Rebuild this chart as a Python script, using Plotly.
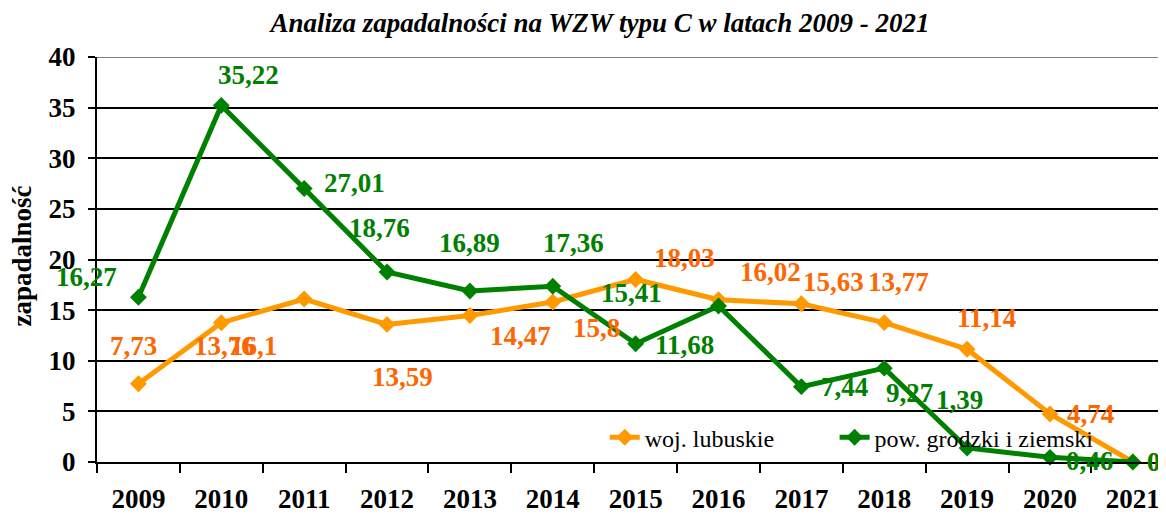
import plotly.graph_objects as go

# ---- data ----
years = ["2009", "2010", "2011", "2012", "2013", "2014", "2015",
         "2016", "2017", "2018", "2019", "2020", "2021"]
woj_lubuskie = [7.73, 13.76, 16.1, 13.59, 14.47, 15.8, 18.03,
                16.02, 15.63, 13.77, 11.14, 4.74, 0]
pow_grodzki = [16.27, 35.22, 27.01, 18.76, 16.89, 17.36, 11.68,
               15.41, 7.44, 9.27, 1.39, 0.46, 0]
y_ticks = [0, 5, 10, 15, 20, 25, 30, 35, 40]

# label offsets (pixels) as in the reference chart
woj_dx = [-5, 3, -51, 15, 51, 44, 49, 52, 32, 14, 19, 41, 21]
woj_dy = [38, -23, -47, -53, -21, -26, 21, 28, 22, 41, 31, 0, 0]
pow_dx = [-52, 27, 50, -8, 0, 21, 49, -87, 43, 25, -8, 40, 21]
pow_dy = [20, 30, 6, 44, 48, 43, -1, 13, 0, -25, 48, -4, 0]

SERIF = "Liberation Serif, Times New Roman, serif"
ORANGE_LINE = "#FF9900"
ORANGE_TEXT = "#FF6600"
GREEN = "#008000"

# the page body adds an 8px margin; figure is sized to fit the window
W, H = 1158, 507
PLOT_LEFT = 89          # figure px
PLOT_TOP = 49
PLOT_BOTTOM = 454.5


def fmt(v):
    return f"{v:g}".replace(".", ",")


fig = go.Figure()
fig.add_trace(go.Scatter(
    x=years, y=woj_lubuskie, mode="lines+markers", name="woj. lubuskie",
    line=dict(color=ORANGE_LINE, width=5),
    marker=dict(symbol="diamond", size=13, color=ORANGE_LINE),
    cliponaxis=False, legend="legend",
))
fig.add_trace(go.Scatter(
    x=years, y=pow_grodzki, mode="lines+markers", name="pow. grodzki i ziemski",
    line=dict(color=GREEN, width=5),
    marker=dict(symbol="diamond", size=13, color=GREEN),
    cliponaxis=False, legend="legend2",
))

annotations = []
for i, (v, dx, dy) in enumerate(zip(woj_lubuskie, woj_dx, woj_dy)):
    annotations.append(dict(x=i, y=v, xref="x", yref="y", text=fmt(v),
                            showarrow=False, xshift=dx, yshift=dy,
                            xanchor="center", yanchor="middle",
                            font=dict(family=SERIF, size=27, color=ORANGE_TEXT,
                                      weight="bold")))
for i, (v, dx, dy) in enumerate(zip(pow_grodzki, pow_dx, pow_dy)):
    annotations.append(dict(x=i, y=v, xref="x", yref="y", text=fmt(v),
                            showarrow=False, xshift=dx, yshift=dy,
                            xanchor="center", yanchor="middle",
                            font=dict(family=SERIF, size=27, color=GREEN,
                                      weight="bold")))
# y-axis title
annotations.append(dict(x=0, y=0.5, xref="paper", yref="paper", text="zapadalność",
                        showarrow=False, textangle=-90, xshift=-76, yshift=3,
                        xanchor="center", yanchor="middle",
                        font=dict(family=SERIF, size=27, color="black", weight="bold")))

legend_common = dict(orientation="h", xanchor="left", y=0.06, yanchor="middle",
                     bgcolor="rgba(0,0,0,0)",
                     font=dict(family=SERIF, size=24, color="black"))

fig.update_layout(
    width=W, height=H,
    margin=dict(l=PLOT_LEFT, r=0, t=PLOT_TOP, b=H - PLOT_BOTTOM),
    paper_bgcolor="white", plot_bgcolor="white",
    title=dict(text="<b><i>Analiza zapadalności na WZW typu C w latach 2009 - 2021</i></b>",
               x=0.4705, xanchor="center", xref="paper",
               y=1 - 15 / H, yref="container", yanchor="middle",
               font=dict(family=SERIF, size=27, color="black")),
    showlegend=True,
    legend=dict(x=0.475, **legend_common),
    legend2=dict(x=0.690, **legend_common),
    annotations=annotations,
    shapes=[dict(type="line", xref="paper", x0=0, x1=1, yref="y", y0=40, y1=40,
                 line=dict(color="#808080", width=2), layer="above")],
)

fig.update_xaxes(
    type="category", range=[-0.5, 12.4],
    showgrid=False, showline=True, linecolor="black", linewidth=2,
    ticks="outside", ticklen=9, tickwidth=2, tickcolor="black", tickson="boundaries",
    tickfont=dict(family=SERIF, size=27, color="black", weight="bold"),
    ticklabelstandoff=12,
)
fig.update_yaxes(
    range=[0, 40], tickvals=y_ticks,
    showgrid=True, gridcolor="black", gridwidth=1.5,
    zeroline=False, showline=True, linecolor="black", linewidth=2,
    ticks="outside", ticklen=7, tickwidth=2, tickcolor="black",
    tickfont=dict(family=SERIF, size=27, color="black", weight="bold"),
    ticklabelstandoff=7,
)

fig.write_html("out.html")
